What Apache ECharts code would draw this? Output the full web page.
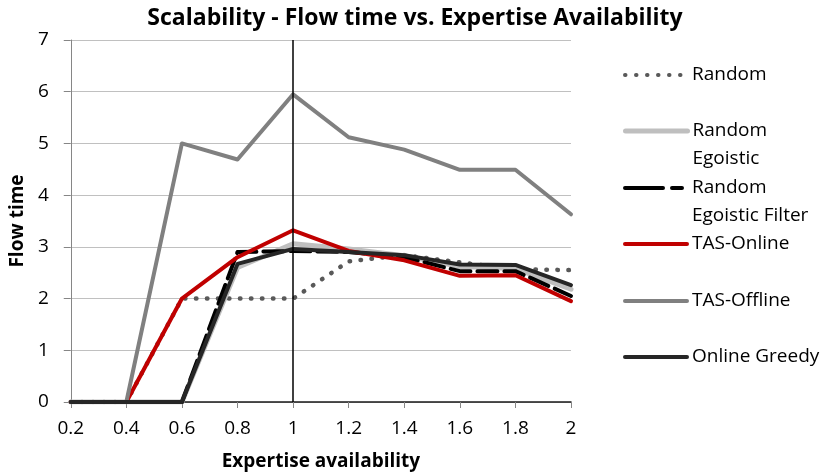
<!DOCTYPE html>
<html>
<head>
<meta charset="utf-8">
<title>Scalability - Flow time vs. Expertise Availability</title>
<script src="https://cdn.jsdelivr.net/npm/echarts@6/dist/echarts.min.js"></script>
<style>
  html, body { margin: 0; padding: 0; background: #fff; }
  #main { width: 830px; height: 476px; }
</style>
</head>
<body>
<div id="main"></div>
<script>
// expertise availability levels (x categories)
const categories = ['0.2', '0.4', '0.6', '0.8', '1', '1.2', '1.4', '1.6', '1.8', '2']
const yTicks = [0, 1, 2, 3, 4, 5, 6, 7]

// flow time per algorithm
const random = [0, 0, 2, 2, 2, 2.72, 2.84, 2.7, 2.57, 2.55]
const randomEgoistic = [0, 0, 0, 2.6, 3.06, 2.96, 2.83, 2.62, 2.58, 2.18]
const randomEgoisticFilter = [0, 0, 0, 2.9, 2.92, 2.9, 2.8, 2.53, 2.53, 2.05]
const tasOnline = [0, 0, 2, 2.8, 3.32, 2.92, 2.74, 2.44, 2.45, 1.95]
const tasOffline = [0, 0, 5, 4.69, 5.95, 5.12, 4.88, 4.49, 4.49, 3.63]
const onlineGreedy = [0, 0, 0, 2.67, 2.96, 2.9, 2.84, 2.66, 2.65, 2.26]

const FONT = 'Open Sans'

const dom = document.getElementById('main')
const myChart = echarts.init(dom, null, { renderer: 'canvas' })

function makeSeries (name, data, color, width, type, extra) {
  return Object.assign({
    name: name,
    type: 'line',
    data: data,
    symbol: 'none',
    lineStyle: { color: color, width: width, type: type, cap: 'round', join: 'round' },
    itemStyle: { color: color },
    emphasis: { disabled: true }
  }, extra || {})
}

// one legend block per entry, to place them like the original.
// two-line labels get a blank first line so the icon sits on "Random"
const legendRows = [
  { name: 'Random', label: 'Random', mid: 75, width: 4 },
  { name: 'Random Egoistic', label: ' \nRandom\nEgoistic', mid: 131, width: 5 },
  { name: 'Random Egoistic Filter', label: ' \nRandom\nEgoistic Filter', mid: 188, width: 4, type: [38, 9, 10, 9] },
  { name: 'TAS-Online', label: 'TAS-Online', mid: 244, width: 4 },
  { name: 'TAS-Offline', label: 'TAS-Offline', mid: 301, width: 4 },
  { name: 'Online Greedy', label: 'Online Greedy', mid: 357, width: 4 }
]
const LINE_H = 28

const legends = legendRows.map(function (row) {
  const lines = row.label.split('\n').length
  const lineStyle = { width: row.width }
  if (row.type) lineStyle.type = row.type
  return {
    show: true,
    orient: 'vertical',
    left: 623,
    top: row.mid - lines * LINE_H / 2,
    padding: 0,
    itemWidth: 62,
    itemHeight: 12,
    selectedMode: false,
    data: [row.name],
    formatter: function () { return row.label },
    itemStyle: { opacity: 0 },
    lineStyle: lineStyle,
    textStyle: {
      fontFamily: FONT,
      fontSize: 19,
      color: '#000',
      lineHeight: LINE_H
    }
  }
})

const option = {
  animation: false,
  backgroundColor: '#fff',
  title: {
    text: 'Scalability - Flow time vs. Expertise Availability',
    left: 'center',
    top: 2,
    textStyle: { fontFamily: FONT, fontSize: 23, fontWeight: 'bold', color: '#000' }
  },
  legend: legends,
  grid: { left: 67, right: 259, top: 40, bottom: 73 },
  xAxis: {
    type: 'category',
    data: categories,
    boundaryGap: false,
    name: 'Expertise availability',
    nameLocation: 'middle',
    nameGap: 50,
    nameTextStyle: { fontFamily: FONT, fontSize: 19, fontWeight: 'bold', color: '#000' },
    axisLine: { lineStyle: { color: '#1a1a1a', width: 1.5 } },
    axisTick: { show: true, alignWithLabel: true, length: 6, lineStyle: { color: '#868686' } },
    axisLabel: { fontFamily: FONT, fontSize: 19, color: '#000', margin: 17 },
    splitLine: { show: false }
  },
  yAxis: {
    type: 'value',
    min: yTicks[0],
    max: yTicks[yTicks.length - 1],
    interval: 1,
    name: 'Flow time',
    nameLocation: 'middle',
    nameGap: 42,
    nameTextStyle: { fontFamily: FONT, fontSize: 19, fontWeight: 'bold', color: '#000' },
    axisLine: { show: true, lineStyle: { color: '#868686', width: 1 } },
    axisTick: { show: true, length: 7, lineStyle: { color: '#868686' } },
    axisLabel: { fontFamily: FONT, fontSize: 19, color: '#000', margin: 22 },
    splitLine: { show: true, lineStyle: { color: '#c0c0c0', width: 1.2 } }
  },
  series: [
    makeSeries('Random', random, '#595959', 4.5, [0.5, 10.5], {
      markLine: {
        symbol: 'none',
        silent: true,
        label: { show: false },
        lineStyle: { color: '#000', width: 1.5, type: 'solid' },
        data: [{ xAxis: categories.indexOf('1') }]
      }
    }),
    makeSeries('Random Egoistic', randomEgoistic, '#bfbfbf', 5, 'solid'),
    makeSeries('Random Egoistic Filter', randomEgoisticFilter, '#000000', 4, [20, 7]),
    makeSeries('TAS-Online', tasOnline, '#c00000', 4, 'solid'),
    makeSeries('TAS-Offline', tasOffline, '#808080', 4, 'solid'),
    makeSeries('Online Greedy', onlineGreedy, '#262626', 4, 'solid')
  ]
}

myChart.setOption(option)
</script>
</body>
</html>
